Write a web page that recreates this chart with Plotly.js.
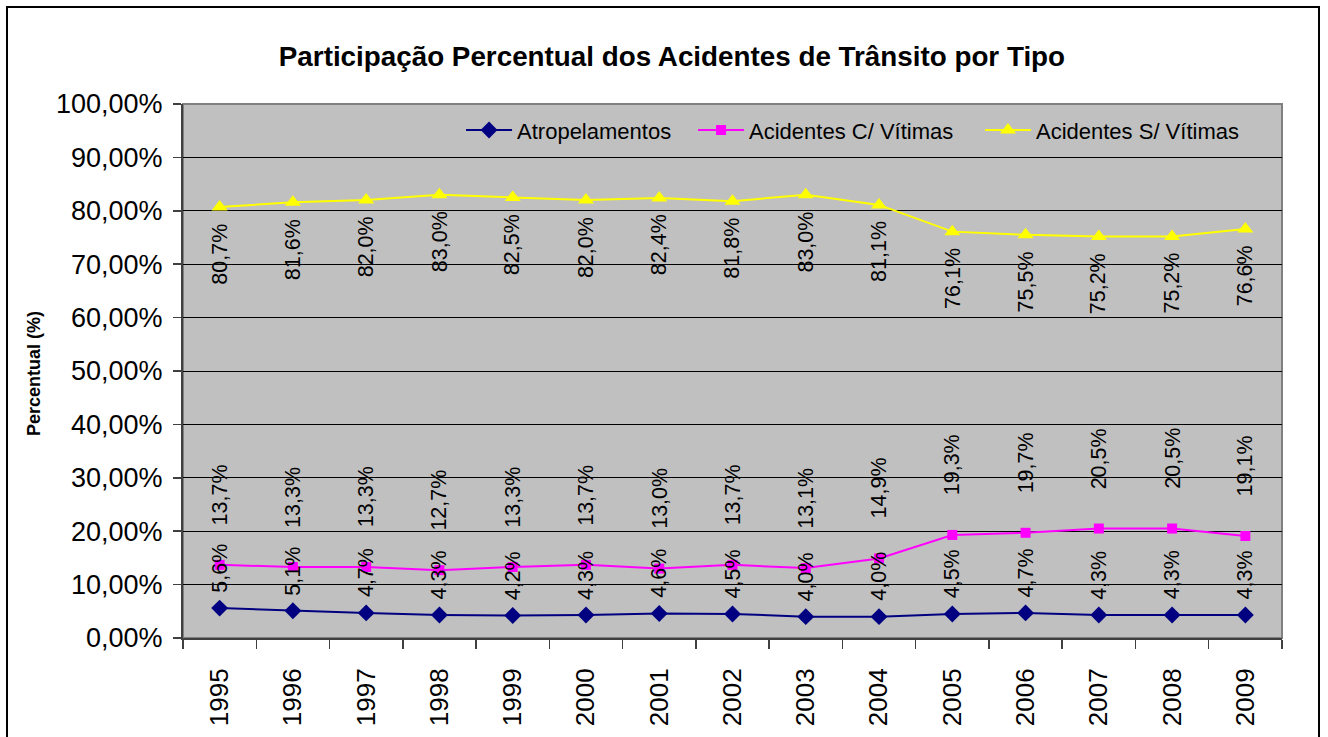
<!DOCTYPE html>
<html>
<head>
<meta charset="utf-8">
<script src="https://cdn.plot.ly/plotly-3.0.1.min.js"></script>
<style>
  html, body { margin: 0; padding: 0; background: #ffffff; }
  #wrap { position: relative; width: 1328px; height: 737px; overflow: hidden; }
  #chart { position: absolute; left: 0; top: 0; width: 1328px; height: 737px; }
  #frame { position: absolute; left: 6px; top: 6px; width: 1310px; height: 760px; border: 2px solid #000; pointer-events: none; }
</style>
</head>
<body>
<div id="wrap">
  <div id="chart"></div>
  <div id="frame"></div>
</div>
<script>
const years = ['1995','1996','1997','1998','1999','2000','2001','2002','2003','2004','2005','2006','2007','2008','2009'];
const atropelamentos = [5.6, 5.1, 4.7, 4.3, 4.2, 4.3, 4.6, 4.5, 4.0, 4.0, 4.5, 4.7, 4.3, 4.3, 4.3];
const comVitimas = [13.7, 13.3, 13.3, 12.7, 13.3, 13.7, 13.0, 13.7, 13.1, 14.9, 19.3, 19.7, 20.5, 20.5, 19.1];
const semVitimas = [80.7, 81.6, 82.0, 83.0, 82.5, 82.0, 82.4, 81.8, 83.0, 81.1, 76.1, 75.5, 75.2, 75.2, 76.6];
const seriesNames = ['Atropelamentos', 'Acidentes C/ Vítimas', 'Acidentes S/ Vítimas'];
const yTicks = [0, 10, 20, 30, 40, 50, 60, 70, 80, 90, 100];

const FONT = 'Arial, "Liberation Sans", sans-serif';

function fmt(v) { return v.toFixed(1).replace('.', ',') + '%'; }

const series = [
  {name: seriesNames[0], y: atropelamentos, color: '#000080', symbol: 'diamond', size: 13, shift: 40, legend: 'legend', lx: 0.2530},
  {name: seriesNames[1], y: comVitimas, color: '#FF00FF', symbol: 'square', size: 10, shift: 70, legend: 'legend2', lx: 0.4641},
  {name: seriesNames[2], y: semVitimas, color: '#FFFF00', symbol: 'triangle-up', size: 14, shift: -47, legend: 'legend3', lx: 0.7252}
];

const traces = series.map(s => ({
  type: 'scatter',
  mode: 'lines+markers',
  name: s.name,
  legend: s.legend,
  x: years,
  y: s.y,
  line: {color: s.color, width: 2},
  marker: {color: s.color, symbol: s.symbol, size: s.size},
  cliponaxis: false,
  hoverinfo: 'x+y+name'
}));

const annotations = [];
series.forEach(s => {
  s.y.forEach((v, i) => {
    annotations.push({
      x: i, y: v, xref: 'x', yref: 'y',
      text: fmt(v), textangle: -90, showarrow: false,
      yshift: s.shift,
      font: {family: FONT, size: 21.5, color: '#000000'}
    });
  });
});
annotations.push({
  xref: 'paper', yref: 'paper', x: -0.1356, y: 0.496,
  xanchor: 'center', yanchor: 'middle',
  text: '<b>Percentual (%)</b>', textangle: -90, showarrow: false,
  font: {family: FONT, size: 18, color: '#000000'}
});

const legendBase = {
  orientation: 'h',
  xanchor: 'left',
  y: 0.951, yanchor: 'middle',
  bgcolor: 'rgba(0,0,0,0)',
  borderwidth: 0,
  font: {family: FONT, size: 22, color: '#000000'},
  itemwidth: 46
};

const layout = {
  width: 1328, height: 737,
  margin: {l: 183, r: 46, t: 104, b: 99},
  paper_bgcolor: '#ffffff',
  plot_bgcolor: '#C0C0C0',
  separators: ',.',
  font: {family: FONT, color: '#000000'},
  title: {
    text: '<b>Participação Percentual dos Acidentes de Trânsito por Tipo</b>',
    font: {family: FONT, size: 27.8, color: '#000000'},
    x: 0.506, xref: 'container', xanchor: 'center',
    y: 0.923, yref: 'container', yanchor: 'middle'
  },
  xaxis: {
    type: 'category',
    range: [-0.5, years.length - 0.5],
    tickson: 'boundaries',
    ticks: 'outside', ticklen: 9, tickcolor: '#404040', tickwidth: 1.5,
    tickangle: -90,
    ticklabelstandoff: 18,
    tickfont: {family: FONT, size: 26, color: '#000000'},
    showgrid: false,
    showline: true, linecolor: '#404040', linewidth: 2,
    fixedrange: true
  },
  yaxis: {
    range: [0, 100],
    tickvals: yTicks,
    ticktext: yTicks.map(v => v.toFixed(2).replace('.', ',') + '%'),
    ticks: 'outside', ticklen: 8, tickcolor: '#404040', tickwidth: 1.5,
    ticklabelstandoff: 5,
    tickfont: {family: FONT, size: 27, color: '#000000'},
    showgrid: true, gridcolor: '#000000', gridwidth: 1,
    zeroline: false,
    showline: true, linecolor: '#404040', linewidth: 2,
    fixedrange: true
  },
  shapes: [{
    type: 'rect', xref: 'paper', yref: 'paper', x0: 0, x1: 1, y0: 0, y1: 1,
    line: {color: '#808080', width: 2}, fillcolor: 'rgba(0,0,0,0)', layer: 'below'
  }],
  showlegend: true,
  annotations: annotations
};
series.forEach(s => {
  layout[s.legend] = Object.assign({}, legendBase, {x: s.lx});
});

Plotly.newPlot('chart', traces, layout, {displayModeBar: false, staticPlot: true});
</script>
</body>
</html>
